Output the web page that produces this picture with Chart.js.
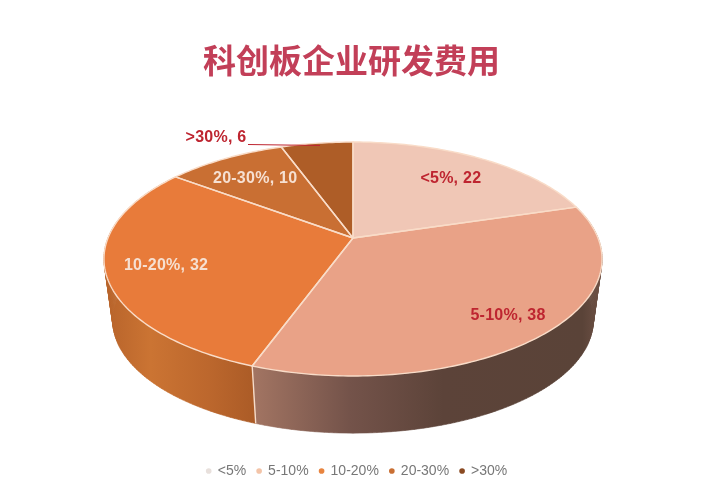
<!DOCTYPE html>
<html><head><meta charset="utf-8">
<style>html,body{margin:0;padding:0;background:#fff}canvas{display:block}</style>
<script src="https://cdn.jsdelivr.net/npm/chart.js@4"></script></head>
<body><canvas id="c" width="714" height="500"></canvas>
<script>
const categories = ['<5%', '5-10%', '10-20%', '20-30%', '>30%'];
const values = [22, 38, 32, 10, 6];
const topColors = ['#F0C7B6', '#E9A287', '#E87B3A', '#C96F33', '#AE5D27'];
const labelColors = ['#BE2530', '#BE2530', '#F6E0D2', '#F6E0D2', '#BE2530'];
const legendColors = ['#E8E0DC', '#F3C4A8', '#E8843F', '#C96F33', '#8A4A22'];
const titleText = '科创板企业研发费用';

const P = {cx:353, cy:238, A:245, B:113.2, k:-0.1795, depth:62, s:0.965};
function project(a, r, low){
  const u = Math.sin(a)*r, v = -Math.cos(a)*r, w = 1 + P.k*v;
  const s = low ? P.s : 1, d = low ? P.depth : 0;
  return [P.cx + s*P.A*u/w, P.cy + d + s*P.B*v/w];
}
function angles(el){ return [el.startAngle + Math.PI/2, el.endAngle + Math.PI/2]; }
function arcPoints(a0, a1, low){
  const n = Math.max(2, Math.ceil((a1-a0)*60)), out = [];
  for(let i=0;i<=n;i++) out.push(project(a0+(a1-a0)*i/n, 1, low));
  return out;
}
function trace2(ctx, pts){ pts.forEach(p=>ctx.lineTo(p[0],p[1])); }
const sideStops = [
  [[0,'#A37563'],[0.28,'#74534A'],[0.55,'#5C4339'],[0.95,'#5A4338'],[1,'#6E5145']],
  [[0,'#AC5C27'],[0.3,'#BC672D'],[0.7,'#CB7433'],[1,'#B8642B']]
];
const sideSpan = [[252,600],[252,107]];

const pie3d = {
  id:'pie3d',
  afterLayout(chart){
    chart.titleBlock.left -= 5.5; chart.titleBlock.right -= 5.5;
  },
  beforeDatasetDraw(chart){
    const ctx = chart.ctx, els = chart.getDatasetMeta(0).data;
    ctx.save();
    [1,2].forEach((idx,j)=>{
      const [a0,a1] = angles(els[idx]);
      const top = arcPoints(a0,a1,false), low = arcPoints(a0,a1,true);
      const g = ctx.createLinearGradient(sideSpan[j][0],0,sideSpan[j][1],0);
      sideStops[j].forEach(s=>g.addColorStop(s[0],s[1]));
      ctx.beginPath();
      for(let i=0;i<top.length-1;i++){
        ctx.moveTo(top[i][0],top[i][1]);
        ctx.lineTo(top[i+1][0],top[i+1][1]);
        ctx.lineTo(low[i+1][0],low[i+1][1]);
        ctx.lineTo(low[i][0],low[i][1]);
        ctx.closePath();
      }
      ctx.fillStyle = g; ctx.fill();
      ctx.strokeStyle = g; ctx.lineWidth = 0.6; ctx.stroke();
    });
    const [, seam] = angles(els[1]);
    const s0 = project(seam,1,false), s1 = project(seam,1,true);
    ctx.strokeStyle = '#F6DCCB'; ctx.lineWidth = 1.4;
    ctx.beginPath(); ctx.moveTo(s0[0],s0[1]); ctx.lineTo(s1[0],s1[1]); ctx.stroke();
    els.forEach((el,i)=>{
      const [a0,a1] = angles(el);
      ctx.beginPath(); ctx.moveTo(P.cx,P.cy); trace2(ctx, arcPoints(a0,a1,false)); ctx.closePath();
      ctx.fillStyle = topColors[i]; ctx.fill();
    });
    els.forEach(el=>{
      const [a0,a1] = angles(el);
      ctx.beginPath(); ctx.moveTo(P.cx,P.cy); trace2(ctx, arcPoints(a0,a1,false)); ctx.closePath();
      ctx.strokeStyle = '#F9DCC8'; ctx.lineWidth = 1.4; ctx.lineJoin='round'; ctx.stroke();
    });
    ctx.restore();
    return false;
  },
  afterDatasetsDraw(chart){
    const ctx = chart.ctx, els = chart.getDatasetMeta(0).data;
    const radii = [0.74, 0.823, 0.765, 0.74];
    ctx.save();
    ctx.font = 'bold 16px "Liberation Sans", sans-serif';
    ctx.letterSpacing = '0.25px';
    ctx.textAlign = 'center'; ctx.textBaseline = 'middle';
    els.forEach((el,i)=>{
      const [a0,a1] = angles(el), mid = (a0+a1)/2;
      let p;
      if(i < radii.length) p = project(mid, radii[i], false);
      else {
        p = [216,136];
        ctx.strokeStyle = labelColors[i]; ctx.lineWidth = 1.2;
        ctx.beginPath(); ctx.moveTo(248,144.5); ctx.lineTo(320,145.5); ctx.stroke();
      }
      ctx.fillStyle = labelColors[i];
      ctx.fillText(categories[i] + ', ' + values[i], p[0], p[1] + 1.5);
    });
    ctx.restore();
  }
};

new Chart(document.getElementById('c'), {
  type:'pie',
  data:{labels:categories, datasets:[{data:values, backgroundColor:legendColors, borderWidth:0}]},
  options:{
    responsive:false, animation:false, devicePixelRatio:1,
    layout:{padding:{bottom:12}},
    plugins:{
      tooltip:{enabled:false},
      title:{display:true, text:titleText, color:'#C23F58', padding:{top:41,bottom:10},
        font:{family:'"Noto Sans CJK SC"', size:33, weight:'bold'}},
      legend:{position:'bottom', labels:{usePointStyle:true, pointStyle:'circle', boxWidth:4, boxHeight:4,
        padding:11, color:'#777777', font:{family:'"Liberation Sans"', size:14}}}
    }
  },
  plugins:[pie3d]
});
</script>
</body></html>
